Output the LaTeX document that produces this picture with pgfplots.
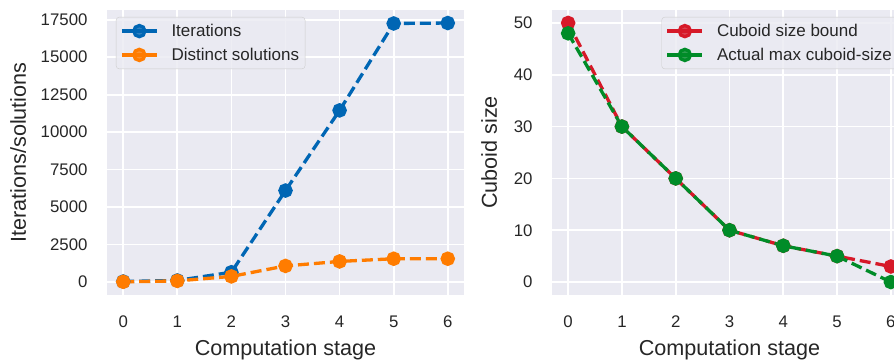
\documentclass[border=0pt]{standalone}
\usepackage{fontspec}
\setmainfont{Liberation Sans}
\usepackage{pgfplots}
\pgfplotsset{compat=1.18}
\definecolor{bgcol}{HTML}{EAEAF2}
\definecolor{txt}{HTML}{262626}
\definecolor{cblue}{RGB}{0,102,180}
\definecolor{corange}{RGB}{255,124,0}
\definecolor{cred}{RGB}{214,25,40}
\definecolor{cgreen}{RGB}{0,140,40}
\pgfplotsset{
  sbstyle/.style={
    scale only axis,
    anchor=south west,
    width=356pt, height=285pt,
    axis background/.style={fill=bgcol},
    axis line style={draw=none},
    major tick length=0pt,
    grid=major,
    major grid style={white, line width=1.7pt},
    xmin=-0.3, xmax=6.3,
    xtick={0,1,2,3,4,5,6},
    /pgf/number format/assume math mode=true,
    /pgf/number format/.cd, fixed, set thousands separator={}, /pgfplots/.cd,
    scaled y ticks=false,
    tick label style={font=\fontsize{16.8}{19}\selectfont, text=txt},
    xticklabel style={yshift=-17pt},
    yticklabel style={xshift=-16pt},
    label style={font=\fontsize{21.6}{25}\selectfont, text=txt},
    xlabel style={at={(axis description cs:0.5,-0.193)}, anchor=center},
    legend style={font=\fontsize{17}{20}\selectfont, text=txt, draw=black!20, fill=bgcol, fill opacity=0.8, text opacity=1,
      rounded corners=3pt, inner xsep=4pt, inner ysep=5pt, row sep=6pt,
      nodes={inner sep=2pt},
      /tikz/every odd column/.style={column sep=11pt}},
    legend cell align=left,
    legend image code/.code={\draw[mark repeat=2,mark phase=2,##1,solid] plot coordinates {(0pt,0pt) (17.5pt,0pt) (35pt,0pt)};},
    every axis plot/.append style={line width=3.3pt, dash pattern=on 11pt off 5pt, mark=*, mark size=5.6pt, mark options={solid, draw=none}},
  }
}
\begin{document}
\begin{tikzpicture}
\begin{axis}[sbstyle,
  at={(107pt,68pt)}, width=357pt,
  ymin=-870, ymax=18150,
  ytick={0,2500,5000,7500,10000,12500,15000,17500},
  xlabel={Computation stage},
  ylabel={Iterations/solutions},
  ylabel style={at={(axis description cs:-0.249,0.5)}, anchor=center},
  legend style={at={(axis description cs:0,1)}, anchor=north west, xshift=9pt, yshift=-7pt},
]
\addplot[color=cblue] coordinates {(0,30)(1,100)(2,650)(3,6100)(4,11450)(5,17250)(6,17280)};
\addlegendentry{Iterations}
\addplot[color=corange] coordinates {(0,10)(1,70)(2,370)(3,1070)(4,1370)(5,1550)(6,1550)};
\addlegendentry{Distinct solutions}
\end{axis}
\begin{axis}[sbstyle,
  at={(552pt,68pt)}, width=355pt,
  ymin=-2.5, ymax=52.5,
  ytick={0,10,20,30,40,50},
  xlabel={Computation stage},
  ylabel={Cuboid size},
  ylabel style={at={(axis description cs:-0.177,0.5)}, anchor=center},
  legend style={at={(axis description cs:1,1)}, anchor=north east, xshift=-9pt, yshift=-7pt},
]
\addplot[color=cred] coordinates {(0,50)(1,30)(2,20)(3,10)(4,7)(5,5)(6,3)};
\addlegendentry{Cuboid size bound}
\addplot[color=cgreen] coordinates {(0,48)(1,30)(2,20)(3,10)(4,7)(5,5)(6,0)};
\addlegendentry{Actual max cuboid-size}
\end{axis}
\pgfresetboundingbox
\useasboundingbox (0,0) rectangle (894pt,363pt);
\end{tikzpicture}
\end{document}
